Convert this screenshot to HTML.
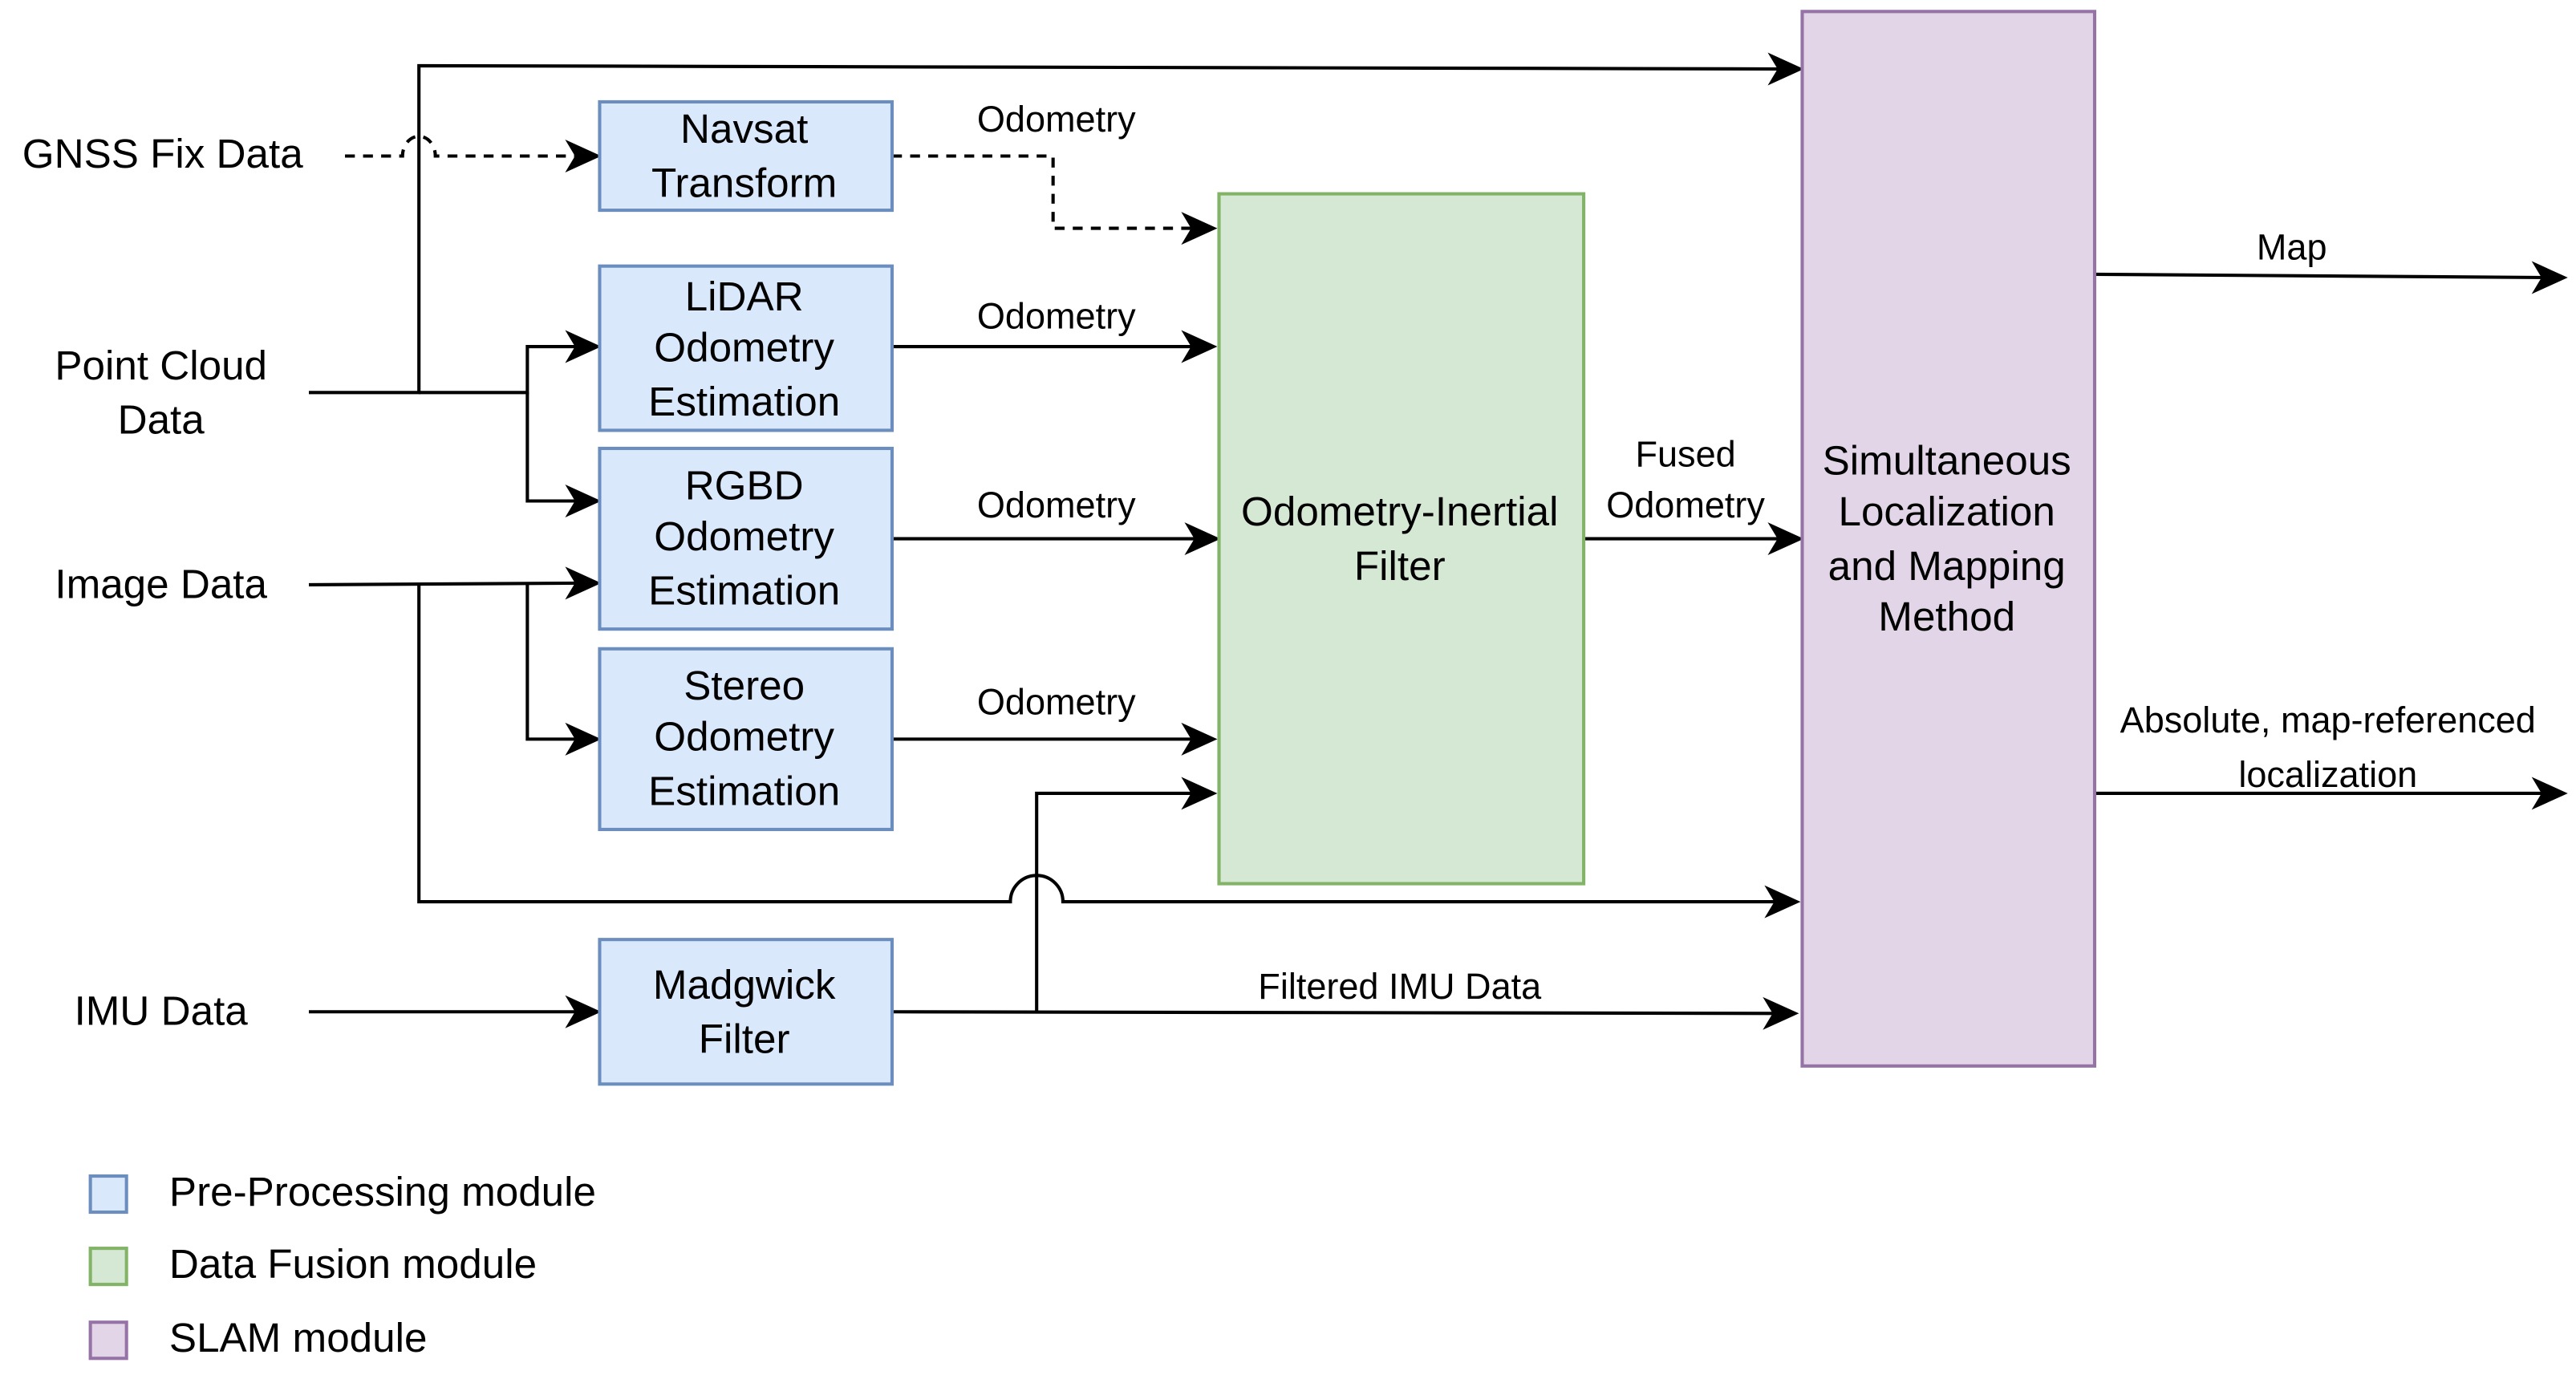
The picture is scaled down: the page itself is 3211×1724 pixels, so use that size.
<!DOCTYPE html>
<html><head><meta charset="utf-8"><style>
html,body{margin:0;padding:0;background:#fff;}
svg{display:block;}
svg text{font-family:"Liberation Sans","DejaVu Sans",sans-serif;}
</style></head><body>
<svg width="3211" height="1724" viewBox="0 0 1568 842" preserveAspectRatio="none" xmlns="http://www.w3.org/2000/svg" font-family="'Liberation Sans', sans-serif">
<g fill="none" stroke="#000" stroke-width="2">
<path d="M188,239 H255 V40 L1088,42"/>
<path d="M210,95 H245 A10,12 0 0 1 265,95 H354" stroke-dasharray="6,5"/>
<path d="M543,95 H641 V139 H730" stroke-dasharray="6,5"/>
<path d="M255,239 H321 V211 H355"/>
<path d="M321,239 V305 H355"/>
<path d="M188,356 L355,355"/>
<path d="M321,356 V450 H355"/>
<path d="M255,356 V549 H615 A16,16 0 0 1 647,549 H1085"/>
<path d="M543,211 H730"/>
<path d="M543,328 H732"/>
<path d="M543,450 H730"/>
<path d="M188,616 H355"/>
<path d="M543,616 L1084,617"/>
<path d="M631,616 V483 H730"/>
<path d="M964,328 H1087"/>
<path d="M1275,167 L1552,169"/>
<path d="M1275,483 H1552"/>
</g>
<g fill="#000">
<path d="M1098,42 l-22,-10 l6,10 l-6,10 z"/>
<path d="M366,95 l-22,-10 l6,10 l-6,10 z"/>
<path d="M741,139 l-22,-10 l6,10 l-6,10 z"/>
<path d="M366,211 l-22,-10 l6,10 l-6,10 z"/>
<path d="M366,305 l-22,-10 l6,10 l-6,10 z"/>
<path d="M366,355 l-22,-10 l6,10 l-6,10 z"/>
<path d="M366,450 l-22,-10 l6,10 l-6,10 z"/>
<path d="M1096,549 l-22,-10 l6,10 l-6,10 z"/>
<path d="M741,211 l-22,-10 l6,10 l-6,10 z"/>
<path d="M743,328 l-22,-10 l6,10 l-6,10 z"/>
<path d="M741,450 l-22,-10 l6,10 l-6,10 z"/>
<path d="M741,483 l-22,-10 l6,10 l-6,10 z"/>
<path d="M366,616 l-22,-10 l6,10 l-6,10 z"/>
<path d="M1095,617 l-22,-10 l6,10 l-6,10 z"/>
<path d="M1098,328 l-22,-10 l6,10 l-6,10 z"/>
<path d="M1563,169 l-22,-10 l6,10 l-6,10 z"/>
<path d="M1563,483 l-22,-10 l6,10 l-6,10 z"/>
</g>
<g stroke-width="2">
<rect x="365" y="62" width="178" height="66" fill="#dae8fc" stroke="#6c8ebf"/>
<rect x="365" y="162" width="178" height="100" fill="#dae8fc" stroke="#6c8ebf"/>
<rect x="365" y="273" width="178" height="110" fill="#dae8fc" stroke="#6c8ebf"/>
<rect x="365" y="395" width="178" height="110" fill="#dae8fc" stroke="#6c8ebf"/>
<rect x="365" y="572" width="178" height="88" fill="#dae8fc" stroke="#6c8ebf"/>
<rect x="742" y="118" width="222" height="420" fill="#d5e8d4" stroke="#82b366"/>
<rect x="1097" y="7" width="178" height="642" fill="#e1d5e7" stroke="#9673a6"/>
<rect x="55" y="716" width="22" height="22" fill="#dae8fc" stroke="#6c8ebf"/>
<rect x="55" y="760" width="22" height="22" fill="#d5e8d4" stroke="#82b366"/>
<rect x="55" y="805" width="22" height="22" fill="#e1d5e7" stroke="#9673a6"/>
</g>
<g font-size="25" text-anchor="middle" fill="#000">
<text x="99" y="102">GNSS Fix Data</text>
<text x="98" y="231">Point Cloud</text>
<text x="98" y="264">Data</text>
<text x="98" y="364">Image Data</text>
<text x="98" y="624">IMU Data</text>
<text x="453" y="87">Navsat</text>
<text x="453" y="120">Transform</text>
<text x="453" y="189">LiDAR</text>
<text x="453" y="220">Odometry</text>
<text x="453" y="253">Estimation</text>
<text x="453" y="304">RGBD</text>
<text x="453" y="335">Odometry</text>
<text x="453" y="368">Estimation</text>
<text x="453" y="426">Stereo</text>
<text x="453" y="457">Odometry</text>
<text x="453" y="490">Estimation</text>
<text x="453" y="608">Madgwick</text>
<text x="453" y="641">Filter</text>
<text x="852" y="320">Odometry-Inertial</text>
<text x="852" y="353">Filter</text>
<text x="1185" y="289">Simultaneous</text>
<text x="1185" y="320">Localization</text>
<text x="1185" y="353">and Mapping</text>
<text x="1185" y="384">Method</text>
</g>
<g font-size="22" text-anchor="middle" fill="#000">
<text x="643" y="80">Odometry</text>
<text x="643" y="200">Odometry</text>
<text x="643" y="315">Odometry</text>
<text x="643" y="435">Odometry</text>
<text x="1026" y="284">Fused</text>
<text x="1026" y="315">Odometry</text>
<text x="1395" y="158">Map</text>
<text x="1417" y="446">Absolute, map-referenced</text>
<text x="1417" y="479">localization</text>
<text x="852" y="608">Filtered IMU Data</text>
</g>
<g font-size="25" fill="#000">
<text x="103" y="734">Pre-Processing module</text>
<text x="103" y="778">Data Fusion module</text>
<text x="103" y="823">SLAM module</text>
</g>
</svg>
</body></html>
